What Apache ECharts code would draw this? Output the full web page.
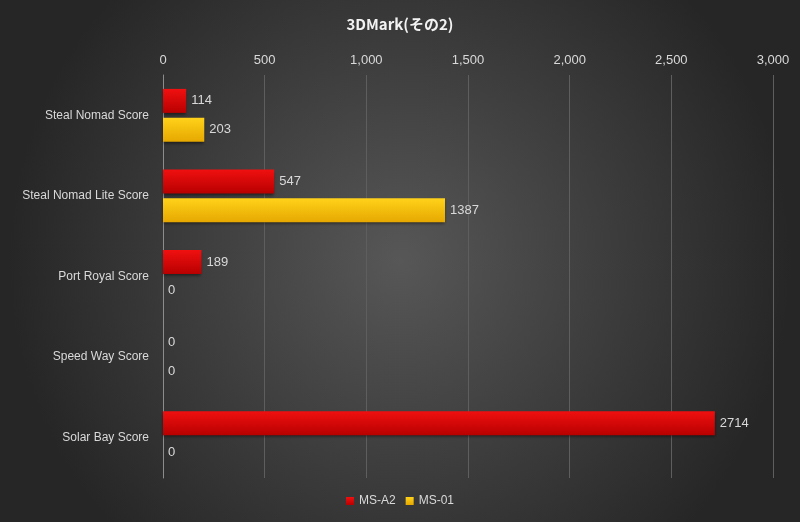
<!DOCTYPE html>
<html>
<head>
<meta charset="utf-8">
<script src="https://cdn.jsdelivr.net/npm/echarts@6/dist/echarts.min.js"></script>
<style>html,body{margin:0;padding:0;}#c{width:800px;height:522px;}</style>
</head>
<body>
<div id="c"></div>
<script>
var categories = ['Steal Nomad Score', 'Steal Nomad Lite Score', 'Port Royal Score', 'Speed Way Score', 'Solar Bay Score'];
var msA2 = [114, 547, 189, 0, 2714];
var ms01 = [203, 1387, 0, 0, 0];
var xTicks = [0, 500, 1000, 1500, 2000, 2500, 3000];

var chart = echarts.init(document.getElementById('c'));
var labelStyle = {show: true, position: 'right', color: '#d9d9d9', fontSize: 13, fontFamily: 'Liberation Sans', distance: 5};
chart.setOption({
    animation: false,
    backgroundColor: {
        type: 'radial', x: 0.5, y: 0.5, r: 0.75,
        colorStops: [{offset: 0, color: '#575757'}, {offset: 1, color: '#262626'}]
    },
    title: {
        text: '3DMark(その2)', left: 'center', top: 12,
        textStyle: {color: '#f2f2f2', fontSize: 15, fontWeight: 'bold', fontFamily: 'Noto Sans CJK JP'}
    },
    legend: {
        bottom: 10, itemWidth: 8, itemHeight: 8, icon: 'rect', itemGap: 10,
        textStyle: {color: '#d9d9d9', fontSize: 12, fontFamily: 'Liberation Sans'},
        data: ['MS-A2', 'MS-01']
    },
    grid: {left: 163, right: 27, top: 75, bottom: 44},
    xAxis: {
        type: 'value', position: 'top', min: xTicks[0], max: xTicks[xTicks.length - 1], interval: 500,
        axisLine: {show: false}, axisTick: {show: false},
        axisLabel: {color: '#d9d9d9', fontSize: 13, fontFamily: 'Liberation Sans'},
        splitLine: {lineStyle: {color: '#5e5e5e'}}
    },
    yAxis: {
        type: 'category', inverse: true, data: categories,
        axisLine: {lineStyle: {color: '#8c8c8c'}}, axisTick: {show: false},
        axisLabel: {color: '#d9d9d9', fontSize: 12, fontFamily: 'Liberation Sans', margin: 14}
    },
    series: [
        {
            name: 'MS-A2', type: 'bar', data: msA2, barWidth: 24, barGap: '20%',
            itemStyle: {
                color: {type: 'linear', x: 0, y: 0, x2: 0, y2: 1,
                    colorStops: [{offset: 0, color: '#f01010'}, {offset: 1, color: '#b80000'}]},
                shadowColor: 'rgba(0,0,0,0.5)', shadowBlur: 3, shadowOffsetY: 2
            },
            label: labelStyle
        },
        {
            name: 'MS-01', type: 'bar', data: ms01, barWidth: 24,
            itemStyle: {
                color: {type: 'linear', x: 0, y: 0, x2: 0, y2: 1,
                    colorStops: [{offset: 0, color: '#ffd21a'}, {offset: 1, color: '#e6a800'}]},
                shadowColor: 'rgba(0,0,0,0.5)', shadowBlur: 3, shadowOffsetY: 2
            },
            label: labelStyle
        }
    ],
    color: ['#e00000', '#ffc000']
});
</script>
</body>
</html>
